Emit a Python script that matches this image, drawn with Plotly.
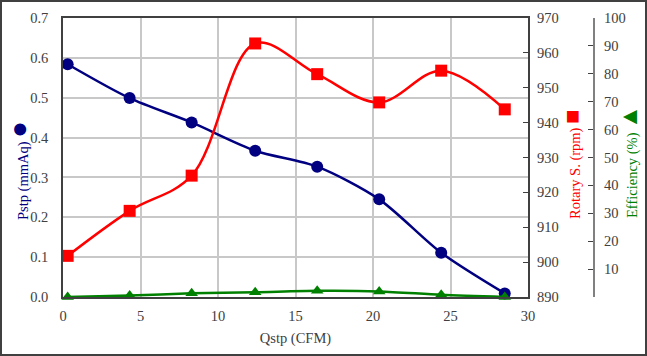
import plotly.graph_objects as go

qstp = [0.3, 4.3, 8.3, 12.4, 16.4, 20.4, 24.4, 28.5]
pstp = [0.584, 0.499, 0.438, 0.367, 0.327, 0.245, 0.111, 0.009]
rotary = [901.8, 914.7, 924.8, 962.7, 953.9, 945.8, 954.9, 943.8]
efficiency = [0.0, 0.5, 1.3, 1.7, 2.2, 2.0, 0.8, 0.0]

NAVY = "#000080"
RED = "#FF0000"
GREEN = "#008000"
FONT = "Liberation Serif"
TICKC = "#404040"

W, H = 647, 356
L, R, T, B = 63, 53, 18, 59
plot_w = W - L - R  # 531
plot_h = H - T - B
dom_end = 465 / plot_w


def px_x(p):
    return (p - L) / plot_w


def px_y(p):
    return (H - B - p) / plot_h


fig = go.Figure()
fig.add_trace(go.Scatter(x=qstp, y=pstp, mode="lines+markers", yaxis="y",
                         line=dict(color=NAVY, width=2.5, shape="spline", smoothing=0.8),
                         marker=dict(symbol="circle", size=12, color=NAVY),
                         cliponaxis=False, showlegend=False))
fig.add_trace(go.Scatter(x=qstp, y=rotary, mode="lines+markers", yaxis="y2",
                         line=dict(color=RED, width=2.5, shape="spline", smoothing=1),
                         marker=dict(symbol="square", size=12, color=RED),
                         cliponaxis=False, showlegend=False))
fig.add_trace(go.Scatter(x=qstp, y=efficiency, mode="lines+markers", yaxis="y3",
                         line=dict(color=GREEN, width=2.5, shape="spline", smoothing=0.8),
                         marker=dict(symbol="triangle-up", size=11, color=GREEN),
                         cliponaxis=False, showlegend=False))

FS = 14.5
fig.update_layout(
    width=W, height=H,
    margin=dict(l=L, r=R, t=T, b=B, autoexpand=False),
    paper_bgcolor="white", plot_bgcolor="white",
    font=dict(family=FONT, size=FS, color=TICKC),
    xaxis=dict(domain=[0, dom_end], range=[0, 30], dtick=5, tick0=0,
               showgrid=True, gridcolor="#c8c8c8", gridwidth=1.5,
               showline=True, linecolor="#404040", linewidth=1.5, mirror=True,
               ticks="", zeroline=False, ticklabelstandoff=5,
               title=dict(text="Qstp (CFM)", font=dict(family=FONT, size=FS, color=TICKC), standoff=10)),
    yaxis=dict(range=[0, 0.7], dtick=0.1, tick0=0, tickformat=".1f",
               showgrid=True, gridcolor="#c8c8c8", gridwidth=1.5,
               showline=True, linecolor="#404040", linewidth=1.5, mirror=True,
               ticks="", zeroline=False, ticklabelstandoff=10),
    yaxis2=dict(range=[890, 970], dtick=10, tick0=890, overlaying="y", side="right",
                anchor="x", showgrid=False, showline=False, zeroline=False,
                ticks="inside", ticklen=5, tickcolor="#404040", ticklabelstandoff=8),
    yaxis3=dict(range=[0, 100], tickvals=list(range(0, 101, 10)),
                ticktext=[""] + [str(v) for v in range(10, 101, 10)],
                overlaying="y", side="right", anchor="free", position=1.0,
                showgrid=False, showline=True, linecolor="#808080", linewidth=2,
                zeroline=False, ticks="inside", ticklen=5, tickcolor="#404040",
                ticklabelstandoff=6),
    shapes=[dict(type="rect", xref="paper", yref="paper",
                 x0=(1 - L) / plot_w, x1=(W - 1 - L) / plot_w,
                 y0=-(B - 1) / plot_h, y1=1 + (T - 1) / plot_h,
                 line=dict(color="#404040", width=2))],
    annotations=[
        dict(text="Pstp (mmAq) <span style='font-size:28px'>●</span>", textangle=-90,
             xref="paper", yref="paper", x=px_x(18), y=px_y(171),
             xanchor="center", yanchor="middle", showarrow=False,
             font=dict(family=FONT, size=FS, color=NAVY)),
        dict(text="Rotary S. (rpm) <span style='font-size:24px'>■</span>", textangle=-90,
             xref="paper", yref="paper", x=px_x(572), y=px_y(164),
             xanchor="center", yanchor="middle", showarrow=False,
             font=dict(family=FONT, size=FS, color=RED)),
        dict(text="Efficiency (%) <span style='font-size:24px'>▲</span>", textangle=-90,
             xref="paper", yref="paper", x=px_x(629), y=px_y(162),
             xanchor="center", yanchor="middle", showarrow=False,
             font=dict(family=FONT, size=FS, color=GREEN)),
    ],
)

fig.write_html("out.html", config={"displayModeBar": False},
               post_script="document.body.style.margin='0';document.body.style.overflow='hidden';")
